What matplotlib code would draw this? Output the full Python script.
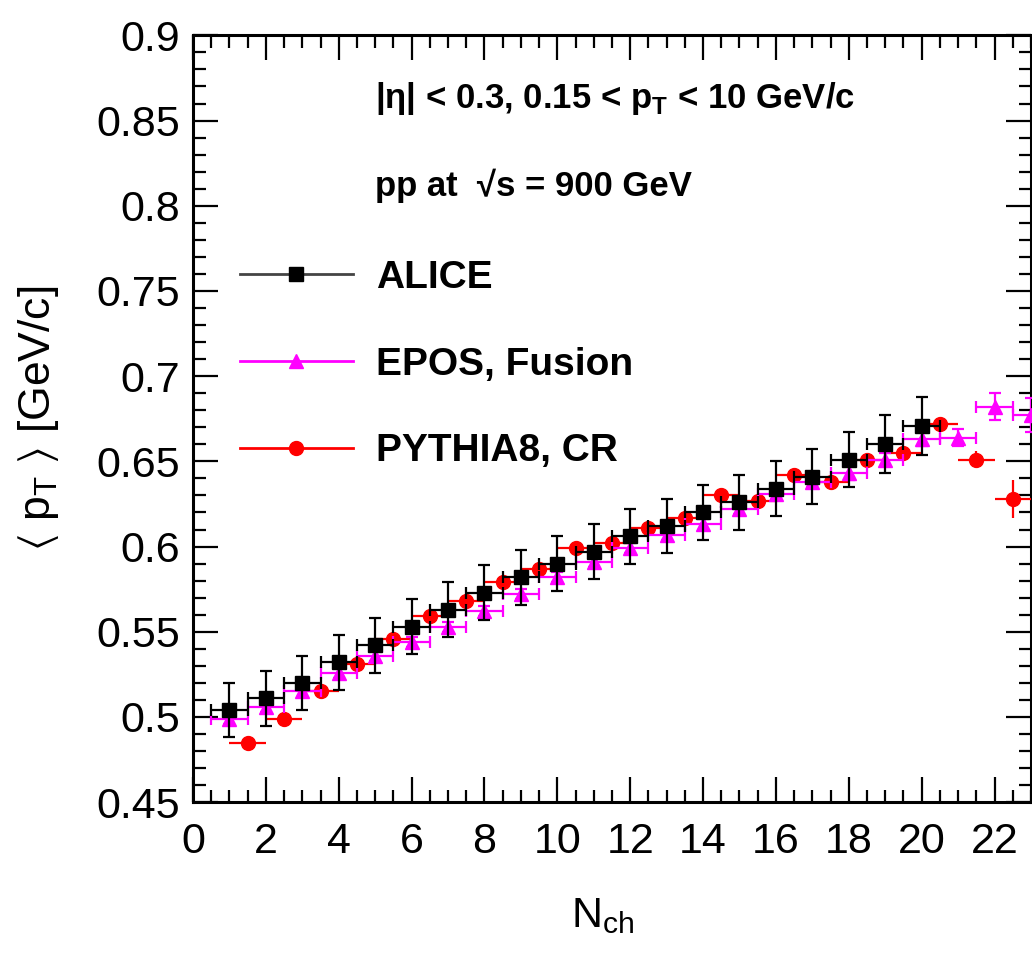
import numpy as np
import matplotlib
matplotlib.use("Agg")
import matplotlib.pyplot as plt
from matplotlib import font_manager as fm
from matplotlib.lines import Line2D
from matplotlib.ticker import MultipleLocator, FormatStrFormatter

names = {f.name for f in fm.fontManager.ttflist}
base = 'Liberation Sans Narrow' if 'Liberation Sans Narrow' in names else 'Liberation Sans'
plt.rcParams['font.family'] = [base, 'DejaVu Sans']
plt.rcParams['mathtext.fontset'] = 'custom'
plt.rcParams['mathtext.rm'] = base
plt.rcParams['mathtext.bf'] = base + ':bold'
plt.rcParams['mathtext.fallback'] = 'stixsans'

# ALICE data
alice_x = [1, 2, 3, 4, 5, 6, 7, 8, 9, 10, 11, 12, 13, 14, 15, 16, 17, 18, 19, 20]
alice_y = [0.504, 0.511, 0.520, 0.532, 0.542, 0.553, 0.563, 0.573, 0.582, 0.590,
           0.597, 0.606, 0.612, 0.620, 0.626, 0.634, 0.641, 0.651, 0.660, 0.671]
alice_err = [0.016, 0.016, 0.016, 0.016, 0.016, 0.016, 0.016, 0.016, 0.016, 0.016,
             0.016, 0.016, 0.016, 0.016, 0.016, 0.016, 0.016, 0.016, 0.017, 0.017]

# EPOS, Fusion
epos_x = [1, 2, 3, 4, 5, 6, 7, 8, 9, 10, 11, 12, 13, 14, 15, 16, 17, 18, 19, 20, 21, 22, 23]
epos_y = [0.499, 0.506, 0.515, 0.526, 0.536, 0.544, 0.553, 0.562, 0.572, 0.582,
          0.591, 0.599, 0.607, 0.613, 0.622, 0.631, 0.638, 0.643, 0.651, 0.663,
          0.664, 0.682, 0.677]
epos_err = [0.003, 0.003, 0.003, 0.003, 0.003, 0.003, 0.003, 0.003, 0.003, 0.003,
            0.003, 0.003, 0.003, 0.003, 0.003, 0.003, 0.003, 0.004, 0.004, 0.004,
            0.005, 0.008, 0.010]

# PYTHIA8, CR
py_x = [1.5, 2.5, 3.5, 4.5, 5.5, 6.5, 7.5, 8.5, 9.5, 10.5, 11.5, 12.5, 13.5, 14.5,
        15.5, 16.5, 17.5, 18.5, 19.5, 20.5, 21.5, 22.5]
py_y = [0.485, 0.499, 0.515, 0.531, 0.546, 0.559, 0.568, 0.579, 0.587, 0.599,
        0.602, 0.611, 0.617, 0.630, 0.627, 0.642, 0.638, 0.651, 0.655, 0.672,
        0.651, 0.628]
py_err = [0.002, 0.002, 0.002, 0.002, 0.002, 0.002, 0.002, 0.002, 0.002, 0.002,
          0.002, 0.002, 0.002, 0.002, 0.002, 0.002, 0.002, 0.002, 0.002, 0.003,
          0.005, 0.011]

labels = ['ALICE', 'EPOS, Fusion', 'PYTHIA8, CR']
colors = ['black', '#ff00ff', '#ff0000']

fig = plt.figure(figsize=(10.32, 9.55), dpi=100)
ax = fig.add_axes([0.187, 0.160, 0.812, 0.803])

ax.errorbar(py_x, py_y, yerr=py_err, xerr=0.5, fmt='o', color=colors[2],
            ms=10, elinewidth=1.6, capsize=0, zorder=3)
ax.errorbar(epos_x, epos_y, yerr=epos_err, xerr=0.5, fmt='^', color=colors[1],
            ms=10, elinewidth=1.6, capsize=4, capthick=1.6, zorder=4)
ax.errorbar(alice_x, alice_y, yerr=alice_err, xerr=0.5, fmt='s', color=colors[0],
            ms=10, elinewidth=1.6, capsize=4, capthick=1.6, zorder=5)

ax.set_xlim(0, 23)
ax.set_ylim(0.45, 0.9)
ax.xaxis.set_major_locator(MultipleLocator(2))
ax.xaxis.set_minor_locator(MultipleLocator(0.5))
ax.yaxis.set_major_locator(MultipleLocator(0.05))
ax.yaxis.set_minor_locator(MultipleLocator(0.01))
ax.yaxis.set_major_formatter(FormatStrFormatter('%g'))
ax.tick_params(which='both', direction='in', top=True, right=True, width=1.6)
ax.tick_params(which='major', length=18, labelsize=31)
ax.tick_params(which='minor', length=9)
ax.tick_params(axis='y', pad=9)
ax.tick_params(axis='x', pad=14)
for s in ax.spines.values():
    s.set_linewidth(2.2)

ax.set_xlabel(r'N$_\mathregular{ch}$', fontsize=31)
ax.xaxis.set_label_coords(0.489, -0.122)
ax.set_ylabel(r'$\langle$ p$_\mathregular{T}$ $\rangle$ [GeV/c]', fontsize=32)
ax.yaxis.set_label_coords(-0.158, 0.50)

ax.text(0.217, 0.918, '|\u03b7| < 0.3, 0.15 < p$_\\mathbf{T}$ < 10 GeV/c',
        transform=ax.transAxes, fontsize=25, fontweight='bold', va='center')
ax.text(0.217, 0.804, 'pp at  \u221as = 900 GeV',
        transform=ax.transAxes, fontsize=25, fontweight='bold', va='center')

handles = [
    Line2D([], [], color='#444444', lw=2, marker='s', ms=10, mfc='black', mec='black'),
    Line2D([], [], color=colors[1], lw=2, marker='^', ms=10),
    Line2D([], [], color=colors[2], lw=2, marker='o', ms=10),
]
ax.legend(handles, labels, loc='upper left', bbox_to_anchor=(0.056, 0.707),
          frameon=False, prop={'weight': 'bold', 'size': 28}, handlelength=2.9,
          handletextpad=0.6, labelspacing=1.3, borderpad=0, borderaxespad=0)

fig.savefig('out.png', dpi=100)
